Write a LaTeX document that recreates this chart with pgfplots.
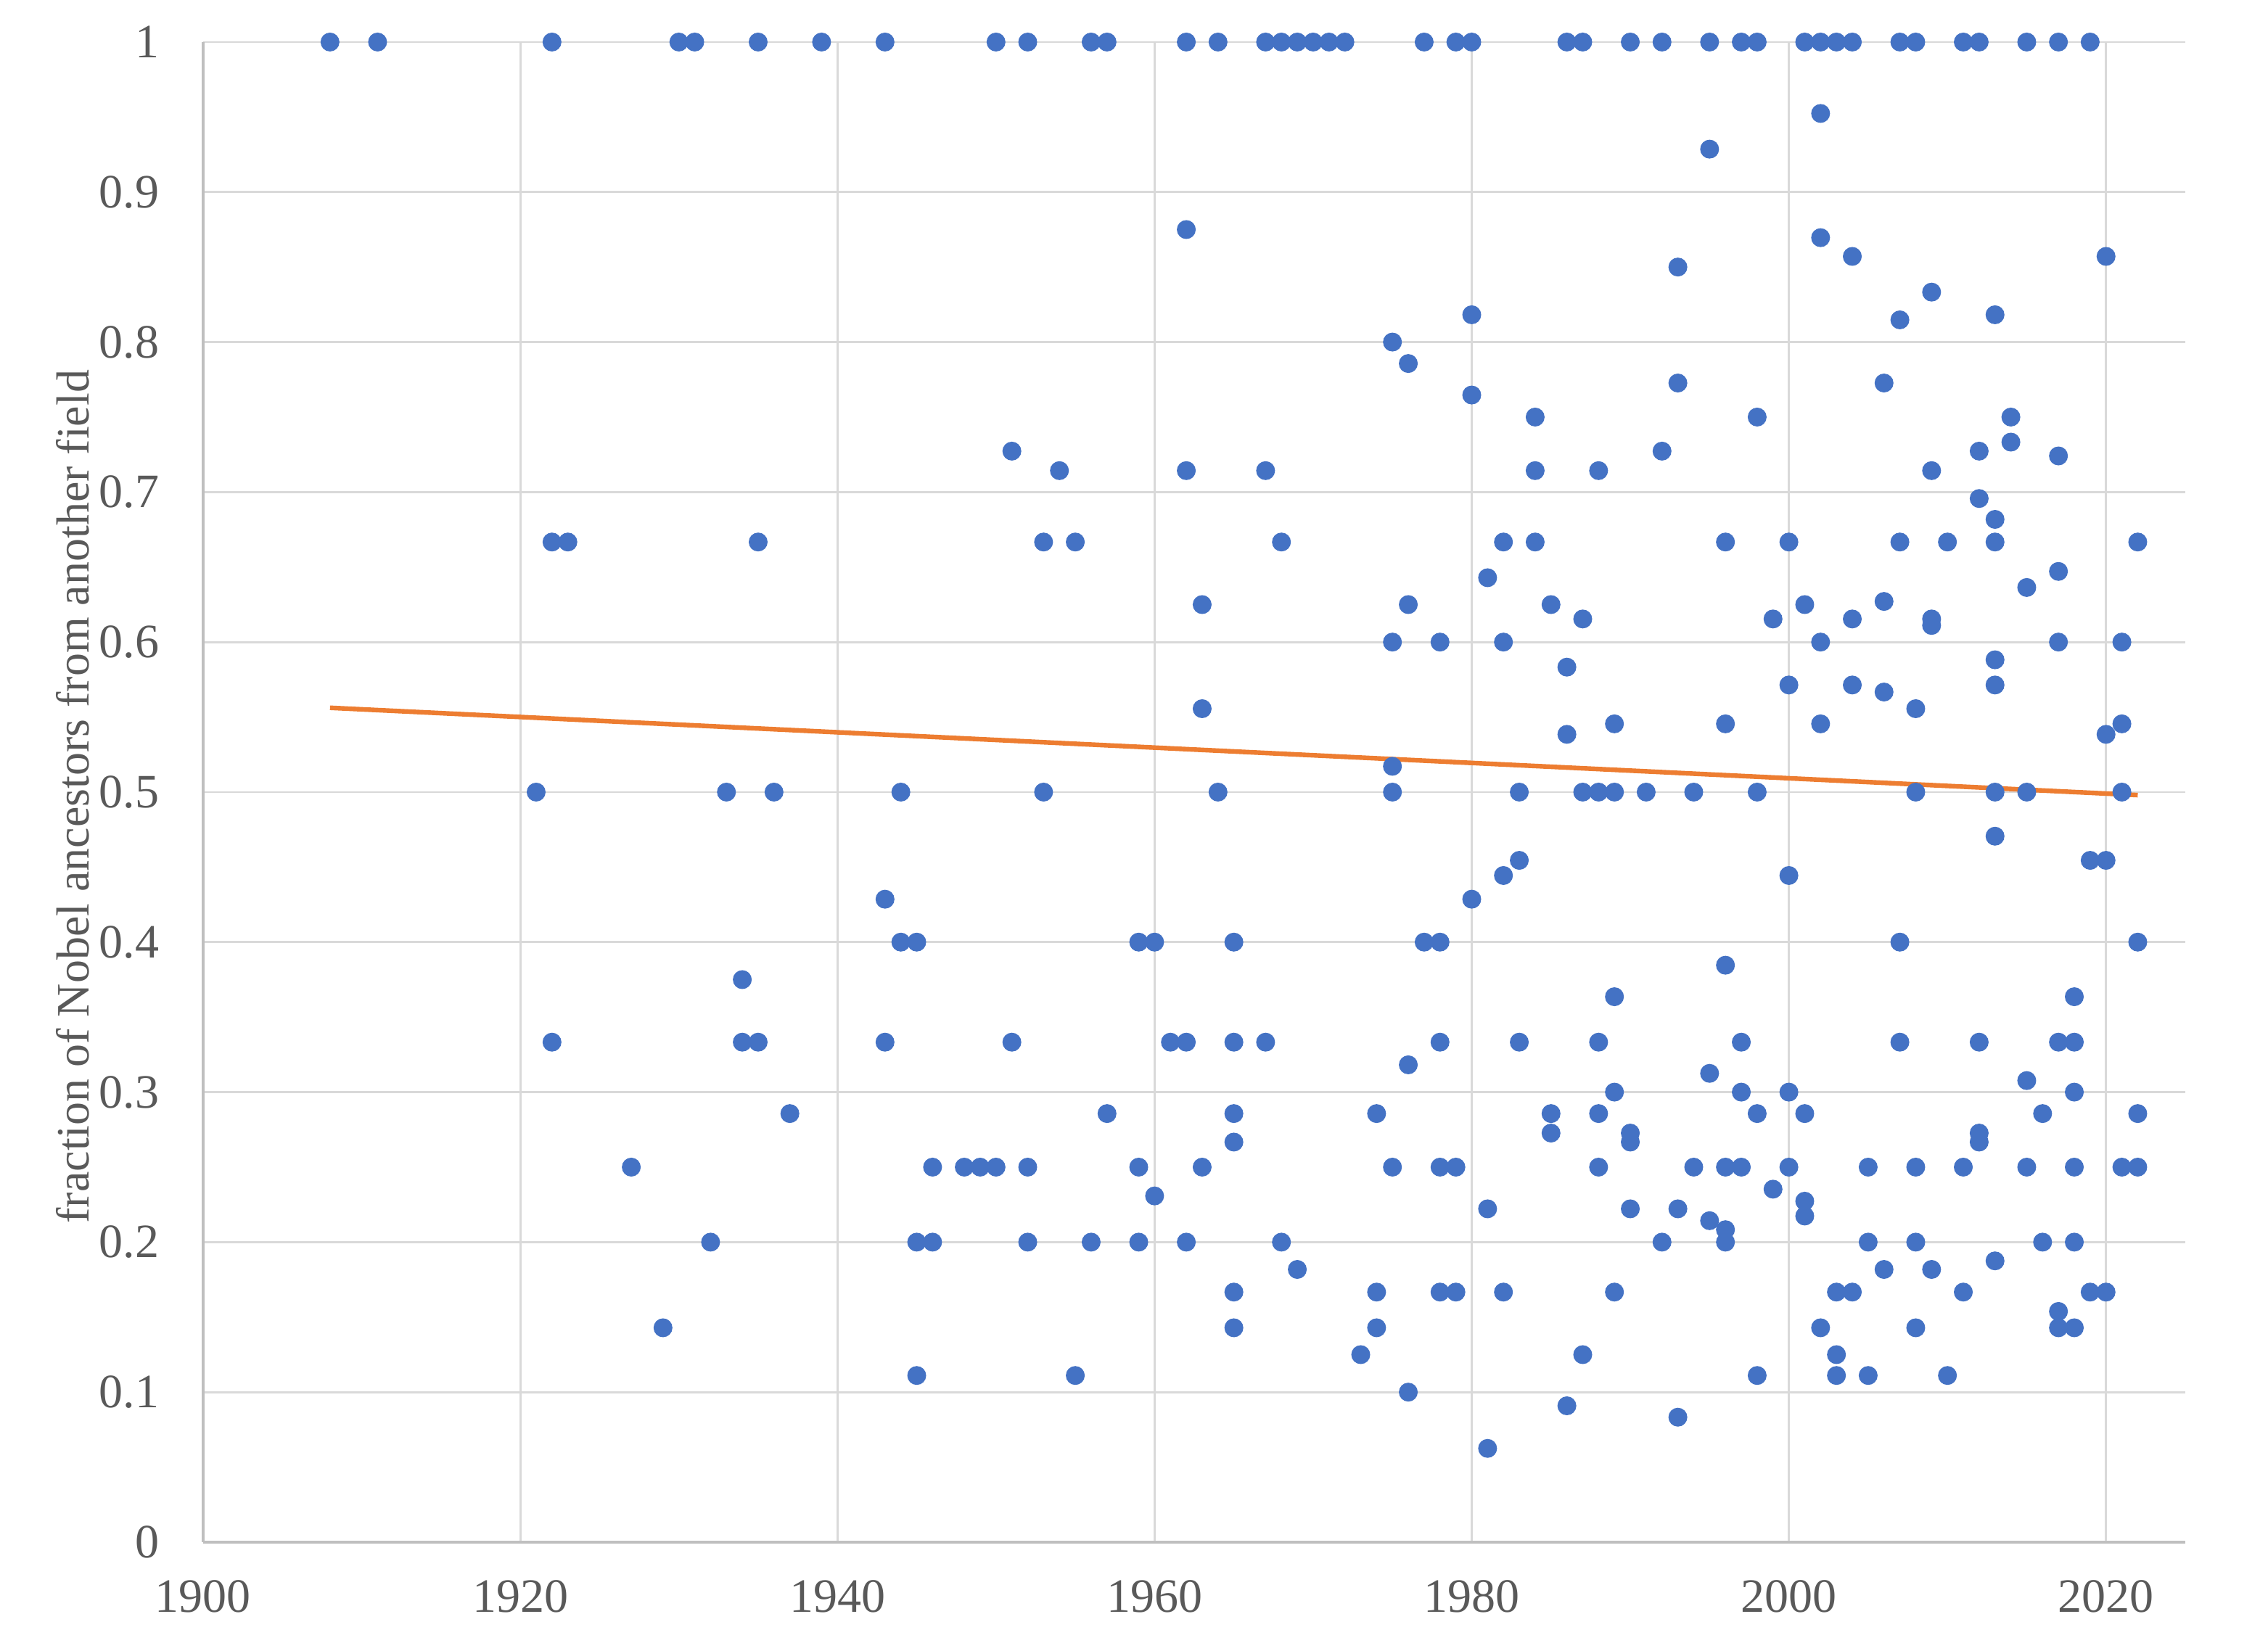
\documentclass[border=0pt]{standalone}
\usepackage{pgfplots}
\pgfplotsset{compat=1.18}
\usepackage{pgfplotstable}
\usepackage{fontspec}
\setmainfont{Liberation Serif}
\definecolor{dotblue}{HTML}{4472C4}
\definecolor{trendor}{HTML}{ED7D31}
\definecolor{gridgray}{HTML}{D9D9D9}
\definecolor{axgray}{HTML}{BFBFBF}
\definecolor{txtgray}{HTML}{595959}
\pgfplotstableread{
x y
1908 1
1911 1
1921 0.5
1922 1
1922 0.6667
1922 0.3333
1923 0.6667
1927 0.25
1929 0.1429
1930 1
1931 1
1932 0.2
1933 0.5
1934 0.375
1934 0.3333
1935 1
1935 0.6667
1935 0.3333
1936 0.5
1937 0.2857
1939 1
1943 1
1943 0.4286
1943 0.3333
1944 0.5
1944 0.4
1945 0.4
1945 0.2
1945 0.1111
1946 0.25
1946 0.2
1948 0.25
1949 0.25
1950 1
1950 0.25
1951 0.7273
1951 0.3333
1952 1
1952 0.25
1952 0.2
1953 0.6667
1953 0.5
1954 0.7143
1955 0.6667
1955 0.1111
1956 1
1956 0.2
1957 1
1957 0.2857
1959 0.4
1959 0.25
1959 0.2
1960 0.4
1960 0.2308
1961 0.3333
1962 1
1962 0.875
1962 0.7143
1962 0.3333
1962 0.2
1963 0.625
1963 0.5556
1963 0.25
1964 1
1964 0.5
1965 0.4
1965 0.3333
1965 0.2857
1965 0.2667
1965 0.1667
1965 0.1429
1967 1
1967 0.7143
1967 0.3333
1968 1
1968 0.6667
1968 0.2
1969 1
1969 0.1818
1970 1
1971 1
1972 1
1973 0.125
1974 0.2857
1974 0.1667
1974 0.1429
1975 0.8
1975 0.6
1975 0.5172
1975 0.5
1975 0.25
1976 0.7857
1976 0.625
1976 0.3182
1976 0.1
1977 1
1977 0.4
1978 0.6
1978 0.4
1978 0.3333
1978 0.25
1978 0.1667
1979 1
1979 0.25
1979 0.1667
1980 1
1980 0.8182
1980 0.7647
1980 0.4286
1981 0.6429
1981 0.2222
1981 0.0625
1982 0.6667
1982 0.6
1982 0.4444
1982 0.1667
1983 0.5
1983 0.4545
1983 0.3333
1984 0.75
1984 0.7143
1984 0.6667
1985 0.625
1985 0.2857
1985 0.2727
1986 1
1986 0.5833
1986 0.5385
1986 0.0909
1987 1
1987 0.6154
1987 0.5
1987 0.125
1988 0.7143
1988 0.5
1988 0.3333
1988 0.2857
1988 0.25
1989 0.5455
1989 0.5
1989 0.3636
1989 0.3
1989 0.1667
1990 1
1990 0.2727
1990 0.2667
1990 0.2222
1991 0.5
1992 1
1992 0.7273
1992 0.2
1993 0.85
1993 0.7727
1993 0.2222
1993 0.0833
1994 0.5
1994 0.25
1995 1
1995 0.9286
1995 0.3125
1995 0.2143
1996 0.6667
1996 0.5455
1996 0.3846
1996 0.25
1996 0.2083
1996 0.2
1997 1
1997 0.3333
1997 0.3
1997 0.25
1998 1
1998 0.75
1998 0.5
1998 0.2857
1998 0.1111
1999 0.6154
1999 0.2353
2000 0.6667
2000 0.5714
2000 0.4444
2000 0.3
2000 0.25
2001 1
2001 0.625
2001 0.2857
2001 0.2273
2001 0.2174
2002 1
2002 0.9524
2002 0.8696
2002 0.6
2002 0.5455
2002 0.1429
2003 1
2003 0.1667
2003 0.125
2003 0.1111
2004 1
2004 0.8571
2004 0.6154
2004 0.5714
2004 0.1667
2005 0.25
2005 0.2
2005 0.1111
2006 0.7727
2006 0.6271
2006 0.5667
2006 0.1818
2007 1
2007 0.8148
2007 0.6667
2007 0.4
2007 0.3333
2008 1
2008 0.5556
2008 0.5
2008 0.25
2008 0.2
2008 0.1429
2009 0.8333
2009 0.7143
2009 0.6154
2009 0.6111
2009 0.1818
2010 0.6667
2010 0.1111
2011 1
2011 0.25
2011 0.1667
2012 1
2012 0.7273
2012 0.6957
2012 0.3333
2012 0.2727
2012 0.2667
2013 0.8182
2013 0.6818
2013 0.6667
2013 0.5882
2013 0.5714
2013 0.5
2013 0.4706
2013 0.1875
2014 0.75
2014 0.7333
2015 1
2015 0.6364
2015 0.5
2015 0.3077
2015 0.25
2016 0.2857
2016 0.2
2017 1
2017 0.7241
2017 0.6471
2017 0.6
2017 0.3333
2017 0.1538
2017 0.1429
2018 0.3636
2018 0.3333
2018 0.3
2018 0.25
2018 0.2
2018 0.1429
2019 1
2019 0.4545
2019 0.1667
2020 0.8571
2020 0.5385
2020 0.4545
2020 0.1667
2021 0.6
2021 0.5455
2021 0.5
2021 0.25
2022 0.6667
2022 0.4
2022 0.2857
2022 0.25
}\dots
\begin{document}
\begin{tikzpicture}
\path[use as bounding box] (-70pt,-34.75pt) rectangle (711.5pt,531.5pt);
\begin{axis}[
  at={(0pt,0pt)}, anchor=south west,
  scale only axis, width=683pt, height=517pt,
  xmin=1900, xmax=2025, ymin=0, ymax=1,
  xtick={1900,1920,1940,1960,1980,2000,2020},
  ytick={0,0.1,0.2,0.3,0.4,0.5,0.6,0.7,0.8,0.9,1},
  yticklabels={0,0.1,0.2,0.3,0.4,0.5,0.6,0.7,0.8,0.9,1},
  /pgf/number format/1000 sep={},
  /pgf/number format/assume math mode=true,
  axis x line*=bottom, axis y line*=left,
  axis line style={-, draw=axgray, line width=1pt},
  major tick length=0pt,
  grid=major,
  major grid style={draw=gridgray, line width=0.7pt},
  tick label style={font=\fontsize{16.5}{20}\selectfont, text=txtgray},
  yticklabel style={anchor=east, inner sep=0pt, xshift=-15pt},
  xticklabel style={anchor=north, inner sep=0pt, yshift=-13pt},
  ylabel={fraction of Nobel ancestors from another field},
  ylabel style={font=\fontsize{16}{19}\selectfont, text=txtgray,
    at={(axis description cs:-0.0659,0.497)}, anchor=center},
  clip=false,
]
\addplot[only marks, mark=*, mark size=3.1pt,
  mark options={fill=dotblue, draw=dotblue, line width=0.3pt}] table[x=x,y=y] {\dots};
\addplot[trendor, line width=1.6pt] coordinates {(1908,0.5562) (2022,0.4980)};
\end{axis}
\end{tikzpicture}
\end{document}
